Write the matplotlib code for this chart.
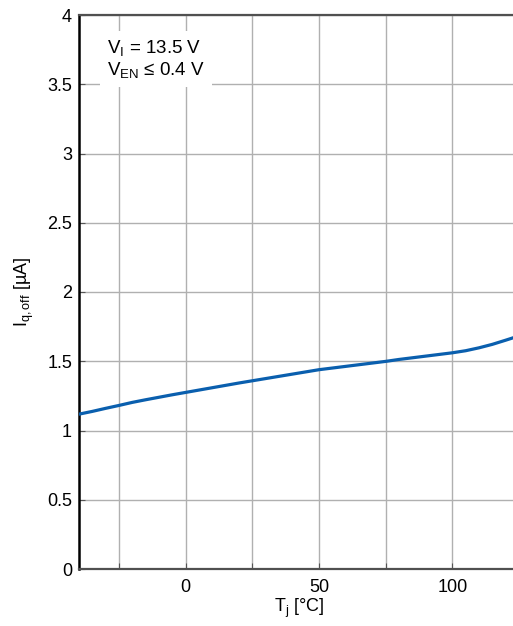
import matplotlib.pyplot as plt

plt.rcParams['font.family'] = ['Liberation Sans', 'DejaVu Sans']
plt.rcParams['mathtext.fontset'] = 'custom'
plt.rcParams['mathtext.rm'] = 'Liberation Sans'
plt.rcParams['mathtext.it'] = 'Liberation Sans:italic'

# junction temperature [C] and quiescent current in off mode [uA]
temp = [-40, -35, -30, -25, -20, -15, -10, -5, 0, 5, 10, 15, 20, 25, 30, 35, 40,
        45, 50, 55, 60, 65, 70, 75, 80, 85, 90, 95, 100, 105, 110, 115, 120, 125]
iq_off = [1.118, 1.138, 1.160, 1.181, 1.203, 1.222, 1.240, 1.258, 1.275, 1.292,
          1.309, 1.326, 1.343, 1.359, 1.375, 1.391, 1.407, 1.423, 1.439, 1.451,
          1.463, 1.475, 1.487, 1.499, 1.513, 1.525, 1.537, 1.549, 1.561, 1.576,
          1.597, 1.622, 1.652, 1.683]

xticks = [0, 50, 100]
xgrid = [-25, 0, 25, 50, 75, 100]
yticks = [0, 0.5, 1, 1.5, 2, 2.5, 3, 3.5, 4]
ytick_labels = ['0', '0.5', '1', '1.5', '2', '2.5', '3', '3.5', '4']

fig = plt.figure(figsize=(5.13, 6.26), dpi=100)
ax = fig.add_axes([79/513, 57/626, 440/513, 554/626])

ax.plot(temp, iq_off, color='#0a5fae', lw=2.3, zorder=3)

ax.set_xlim(-40, 125)
ax.set_ylim(0, 4)
ax.set_xticks(xgrid)
ax.set_xticklabels(['' if t not in xticks else str(t) for t in xgrid])
ax.set_yticks(yticks)
ax.set_yticklabels(ytick_labels)
ax.grid(True, color='#b0b0b0', lw=1.0)
ax.tick_params(direction='in', length=4, labelsize=13, color='#555555')
ax.tick_params(axis='x', pad=7)
ax.tick_params(axis='y', pad=5)

ax.spines['left'].set_color('black')
ax.spines['left'].set_linewidth(1.8)
for s in ['top', 'bottom', 'right']:
    ax.spines[s].set_color('#505050')
    ax.spines[s].set_linewidth(1.6)

ax.set_xlabel(r'T$_\mathregular{j}$ [°C]', fontsize=13, labelpad=1)
ax.set_ylabel(r'I$_\mathregular{q,off}$ [µA]', fontsize=13, labelpad=8)

ax.text(-29.5, 3.68, 'V$_\\mathregular{I}$ = 13.5 V\nV$_\\mathregular{EN}$ ≤ 0.4 V',
        fontsize=13.5, va='center', ha='left', linespacing=1.15,
        bbox=dict(facecolor='white', edgecolor='none', pad=5), zorder=4)

fig.savefig('out.png', dpi=100)
